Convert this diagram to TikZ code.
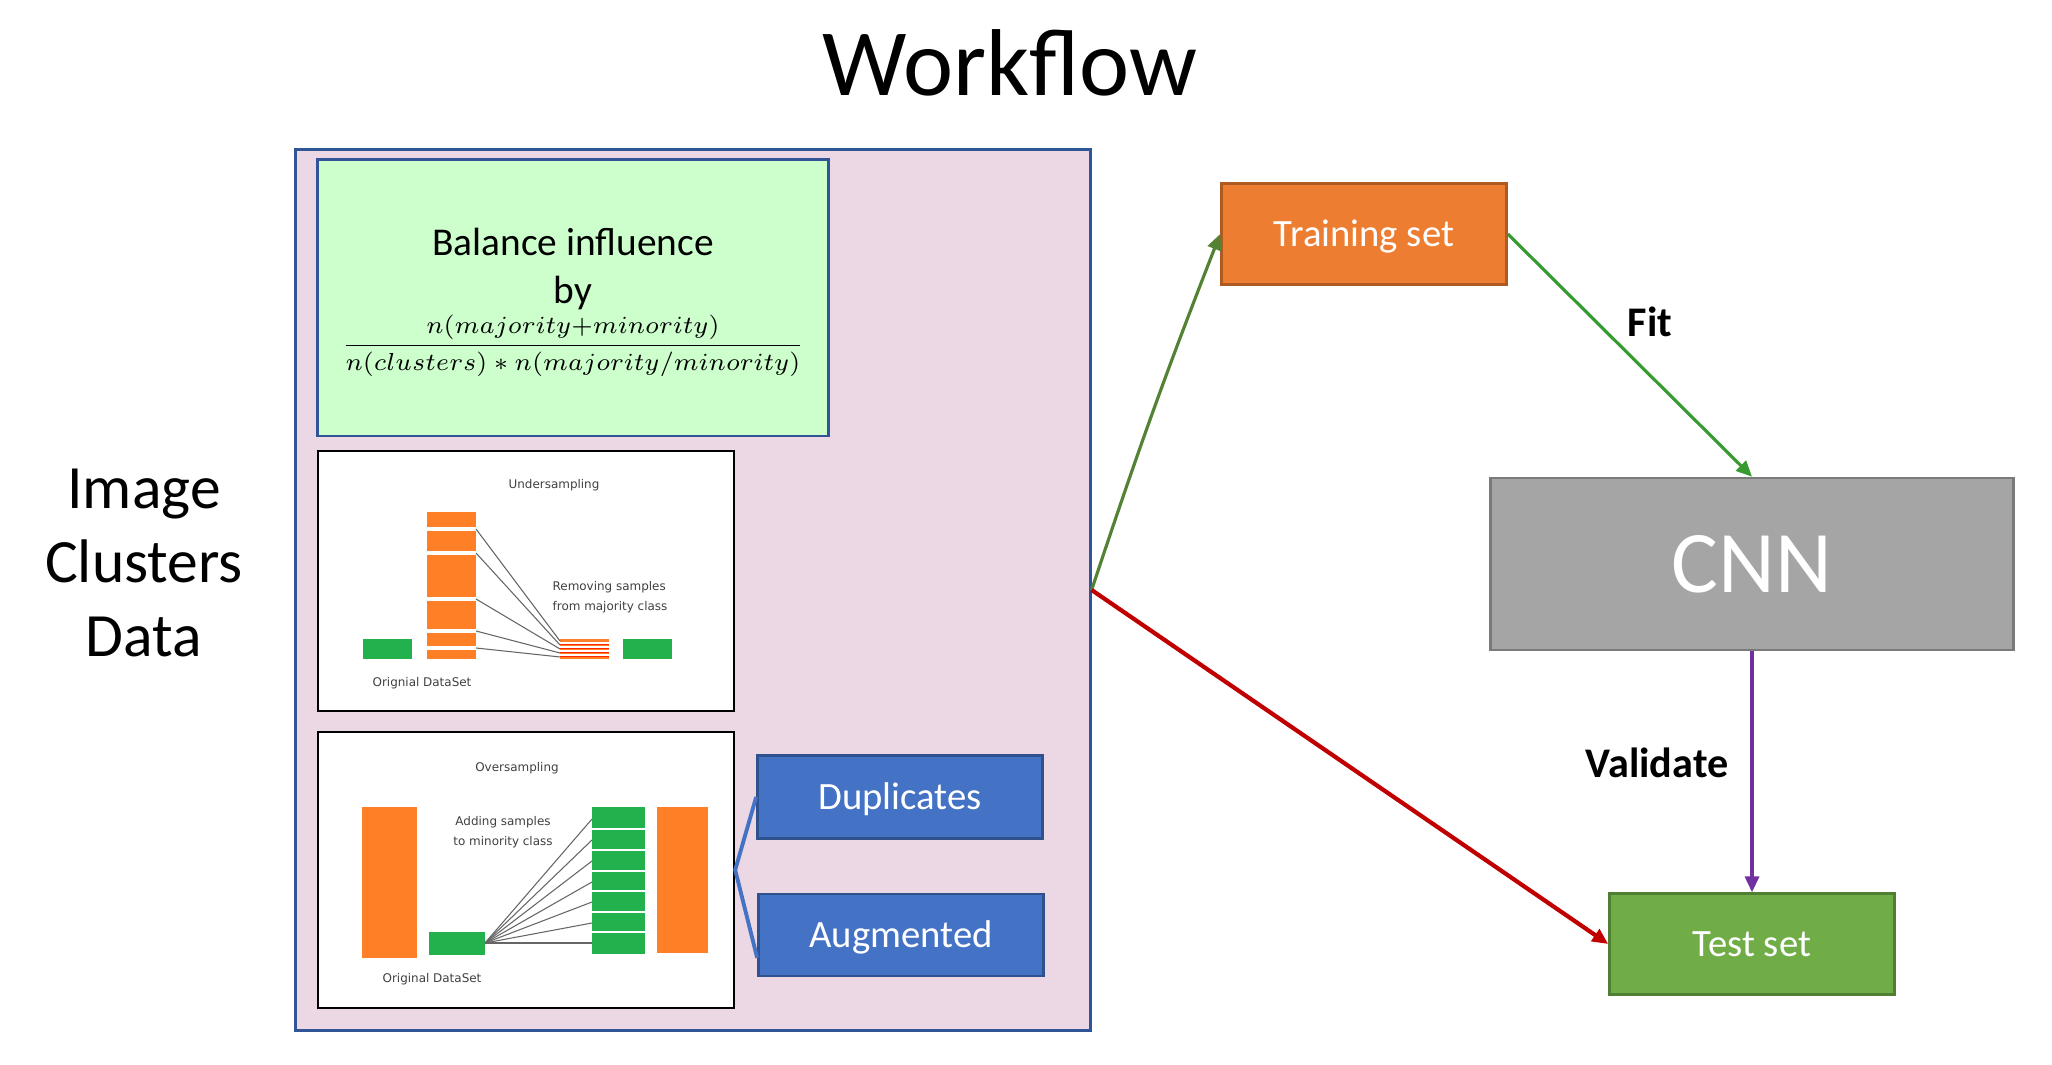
\documentclass[tikz,border=0pt]{standalone}
\usepackage{fix-cm}
\usepackage{amsmath}
\usepackage{fontspec}
\setmainfont{Carlito}
\newfontfamily\sketchfont{DejaVu Sans}
\usetikzlibrary{arrows.meta,positioning}

\definecolor{pinkbg}{RGB}{235,216,228}
\definecolor{panelblue}{RGB}{47,85,151}
\definecolor{mint}{RGB}{204,255,204}
\definecolor{trainorange}{RGB}{237,125,49}
\definecolor{trainedge}{RGB}{174,90,33}
\definecolor{cnngray}{RGB}{165,165,165}
\definecolor{cnnedge}{RGB}{122,122,122}
\definecolor{testgreen}{RGB}{112,173,71}
\definecolor{testedge}{RGB}{80,126,50}
\definecolor{dupblue}{RGB}{68,114,196}
\definecolor{dupedge}{RGB}{47,82,143}
\definecolor{trainarrow}{RGB}{84,130,53}
\definecolor{fitarrow}{RGB}{55,155,50}
\definecolor{redarrow}{RGB}{192,0,0}
\definecolor{purplearrow}{RGB}{112,48,160}
\definecolor{imgorange}{RGB}{255,127,39}
\definecolor{imggreen}{RGB}{34,177,76}

\begin{document}
\begin{tikzpicture}[x=0.01cm,y=-0.01cm,
    box/.style={draw, line width=0.7pt, inner sep=0pt, text=white,
      minimum width=2.85cm, text height=7.1pt, text depth=0pt,
      font=\fontsize{11}{13}\selectfont},
    sketch/.style={draw=black, line width=0.6pt, fill=white, inner sep=0pt,
      minimum width=4.16cm},
    note/.style={font=\sketchfont\fontsize{3.4}{5.7}\selectfont,
      text=black!75, inner sep=0pt},
    edgelabel/.style={font=\bfseries\fontsize{12}{14}\selectfont},
    link/.style={line width=0.9pt, -{Triangle[length=4.5pt,width=4pt]}}]
  \useasboundingbox (0,0) rectangle (2052,1065);

  \node[font=\fontsize{27}{32}\selectfont] (title) at (1010,63) {Workflow};
  \node[align=center, font=\fontsize{17.5}{21}\selectfont] (imgdata) at (144,563)
    {Image\\Clusters\\Data};

  % left panel
  \node[draw=panelblue, fill=pinkbg, line width=0.8pt, inner sep=0pt,
    minimum width=7.94cm, minimum height=8.80cm] (panel) at (693,590) {};
  \node[draw=panelblue, fill=mint, line width=0.8pt, inner sep=0pt,
    minimum width=5.10cm, minimum height=2.76cm] (formula) at (573,298) {};
  \node[font=\fontsize{11.2}{13}\selectfont] (balance) at (573,242) {Balance influence};
  \node[font=\fontsize{11.2}{13}\selectfont] (by) at (573,293) {by};
  \node[font=\fontsize{7}{9}\selectfont] (ratio) at (573,346)
    {$\dfrac{n(majority{+}minority)}{n(clusters)\ast n(majority/minority)}$};

  % undersampling sketch
  \node[sketch, minimum height=2.60cm] (under) at (526,581) {};
  \node[note] at (554,485) {Undersampling};
  \fill[imgorange] (427,512) rectangle (476,659);
  \foreach \y in {529,553,599,631,648}
    \draw[white, line width=0.35pt] (427,\y-1) -- (476,\y-1) (427,\y+1) -- (476,\y+1);
  \fill[imggreen] (363,639) rectangle (412,659);
  \fill[imggreen] (623,639) rectangle (672,659);
  \fill[imgorange] (560,639) rectangle (609,659);
  \foreach \y in {643,647,651,655}{
    \draw[white, line width=0.45pt] (560,\y) -- (609,\y);
    \draw[red!70!orange, line width=0.25pt] (560,\y+1.3) -- (609,\y+1.3);}
  \foreach \a/\b in {529/641,553/645,599/649,631/653,648/657}
    \draw[black!60, line width=0.3pt] (476,\a) -- (560,\b);
  \node[note, align=left] at (610,597) {Removing samples\\from majority class};
  \node[note] at (422,683) {Orignial DataSet};

  % oversampling sketch
  \node[sketch, minimum height=2.76cm] (over) at (526,870) {};
  \node[note] at (517,768) {Oversampling};
  \fill[imgorange] (362,807) rectangle (417,958);
  \fill[imggreen] (429,932) rectangle (485,955);
  \fill[imggreen] (592,807) rectangle (645,954);
  \foreach \y in {829,850,871,891,912,932}
    \draw[white, line width=0.6pt] (592,\y) -- (645,\y);
  \fill[imgorange] (657,807) rectangle (708,953);
  \foreach \y in {819,840,861,882,902,923,943}
    \draw[black!60, line width=0.3pt] (485,943) -- (592,\y);
  \node[note, align=center] at (503,832) {Adding samples\\to minority class};
  \node[note] at (432,979) {Original DataSet};

  \node[box, draw=dupedge, fill=dupblue, minimum height=0.83cm] (dup) at (900,797) {Duplicates};
  \node[box, draw=dupedge, fill=dupblue, minimum height=0.82cm] (aug) at (901,935) {Augmented};
  \draw[dupblue, line width=1.1pt] (dup.west) -- (over.east) -- ([yshift=-6.5pt]aug.west);

  % right part
  \node[box, draw=trainedge, fill=trainorange, minimum height=1.01cm] (train) at (1364,234) {Training set};
  \node[box, draw=cnnedge, fill=cnngray, minimum width=5.23cm, minimum height=1.72cm,
    text height=16pt, font=\fontsize{25}{30}\selectfont] (cnn) at (1752,564) {CNN};
  \node[box, draw=testedge, fill=testgreen, minimum height=1.01cm] (test) at (1752,944) {Test set};

  \draw[link, trainarrow] (panel.east) to[bend left=1.5] (train.west);
  \draw[link, redarrow, line width=1.2pt] (panel.east) -- (test.west);
  \draw[link, fitarrow] (train.east) -- (cnn.north);
  \draw[link, purplearrow] (cnn.south) -- (test.north);
  \node[edgelabel] (fit) at (1650,322) {Fit};
  \node[edgelabel] (validate) at (1657,763) {Validate};
\end{tikzpicture}
\end{document}
